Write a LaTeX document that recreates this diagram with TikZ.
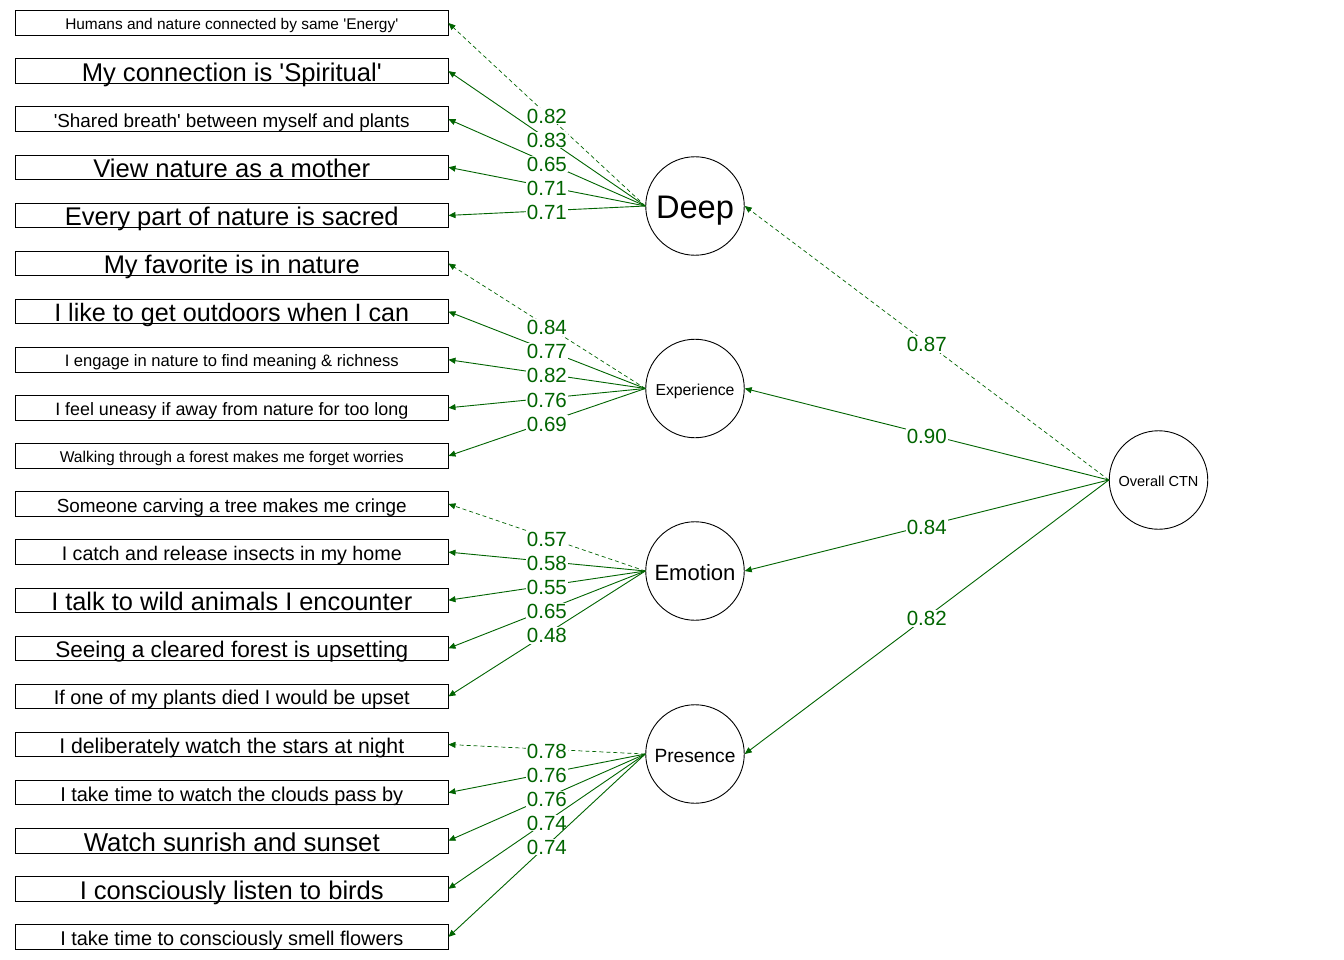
\documentclass[tikz,border=0pt]{standalone}
\usepackage{fontspec}
\setmainfont{Liberation Sans}
\usetikzlibrary{arrows.meta}
\definecolor{dgreen}{RGB}{0,100,0}
\newcommand\fitlab[2]{%
  \setbox0=\hbox{\fontsize{10pt}{12pt}\selectfont #2}%
  \pgfmathsetmacro\fitsz{10*#1/\the\wd0}%
  \fontsize{\fitsz pt}{\fitsz pt}\selectfont
  \smash{\raisebox{\dimexpr-0.358em-1.3pt\relax}{#2}}}
\newcommand\q{\textquotesingle}
\begin{document}
\begin{tikzpicture}[x=1pt,y=-1pt,
  item/.style={draw=black,line width=0.9pt,rectangle,minimum width=432.5pt,minimum height=24.5pt,inner sep=0pt},
  latent/.style={draw=black,line width=0.9pt,circle,minimum size=98.5pt,inner sep=0pt},
  load/.style={draw=dgreen,line width=0.9pt,-{Triangle[length=7pt,width=6pt]}},
  first/.style={dash pattern=on 4pt off 3pt,line width=0.7pt},
  lab/.style={fill=white,inner sep=1pt,text=dgreen,font=\fontsize{20.5pt}{20.5pt}\selectfont,text height=14.7pt,text depth=0pt,yshift=-1.5pt}]
\useasboundingbox (0,0) rectangle (1344,960);
\fill[white] (0,0) rectangle (1344,960);
\foreach \i/\w/\t in {
 1/333/{Humans and nature connected by same \q Energy\q},
 2/300/{My connection is \q Spiritual\q},
 3/356/{\q Shared breath\q\ between myself and plants},
 4/277/{View nature as a mother},
 5/334/{Every part of nature is sacred},
 6/256/{My favorite is in nature},
 7/355/{I like to get outdoors when I can},
 8/334/{I engage in nature to find meaning \& richness},
 9/353/{I feel uneasy if away from nature for too long},
 10/344/{Walking through a forest makes me forget worries},
 11/350/{Someone carving a tree makes me cringe},
 12/340/{I catch and release insects in my home},
 13/361/{I talk to wild animals I encounter},
 14/353/{Seeing a cleared forest is upsetting},
 15/356/{If one of my plants died I would be upset},
 16/345/{I deliberately watch the stars at night},
 17/343/{I take time to watch the clouds pass by},
 18/296/{Watch sunrish and sunset},
 19/304/{I consciously listen to birds},
 20/343/{I take time to consciously smell flowers}}
 {\node[item] (b\i) at (231.75,{23+(\i-1)*48.1}) {\fitlab{\w}{\t}};}
\node[latent] (deep) at (695,206) {\fitlab{78}{Deep}};
\node[latent] (exp) at (695,388.5) {\fitlab{79}{Experience}};
\node[latent] (emo) at (695,571) {\fitlab{81}{Emotion}};
\node[latent] (pres) at (695,754) {\fitlab{81}{Presence}};
\node[latent] (ctn) at (1158.5,480) {\fitlab{80}{Overall CTN}};
% Deep
\draw[load,first] (deep.west) -- node[lab]{0.82} (b1.east);
\draw[load] (deep.west) -- node[lab]{0.83} (b2.east);
\draw[load] (deep.west) -- node[lab]{0.65} (b3.east);
\draw[load] (deep.west) -- node[lab]{0.71} (b4.east);
\draw[load] (deep.west) -- node[lab]{0.71} (b5.east);
% Experience
\draw[load,first] (exp.west) -- node[lab]{0.84} (b6.east);
\draw[load] (exp.west) -- node[lab]{0.77} (b7.east);
\draw[load] (exp.west) -- node[lab]{0.82} (b8.east);
\draw[load] (exp.west) -- node[lab]{0.76} (b9.east);
\draw[load] (exp.west) -- node[lab]{0.69} (b10.east);
% Emotion
\draw[load,first] (emo.west) -- node[lab]{0.57} (b11.east);
\draw[load] (emo.west) -- node[lab]{0.58} (b12.east);
\draw[load] (emo.west) -- node[lab]{0.55} (b13.east);
\draw[load] (emo.west) -- node[lab]{0.65} (b14.east);
\draw[load] (emo.west) -- node[lab]{0.48} (b15.east);
% Presence
\draw[load,first] (pres.west) -- node[lab]{0.78} (b16.east);
\draw[load] (pres.west) -- node[lab]{0.76} (b17.east);
\draw[load] (pres.west) -- node[lab]{0.76} (b18.east);
\draw[load] (pres.west) -- node[lab]{0.74} (b19.east);
\draw[load] (pres.west) -- node[lab]{0.74} (b20.east);
% Overall
\draw[load,first] (ctn.west) -- node[lab]{0.87} (deep.east);
\draw[load] (ctn.west) -- node[lab]{0.90} (exp.east);
\draw[load] (ctn.west) -- node[lab]{0.84} (emo.east);
\draw[load] (ctn.west) -- node[lab]{0.82} (pres.east);
\end{tikzpicture}
\end{document}
